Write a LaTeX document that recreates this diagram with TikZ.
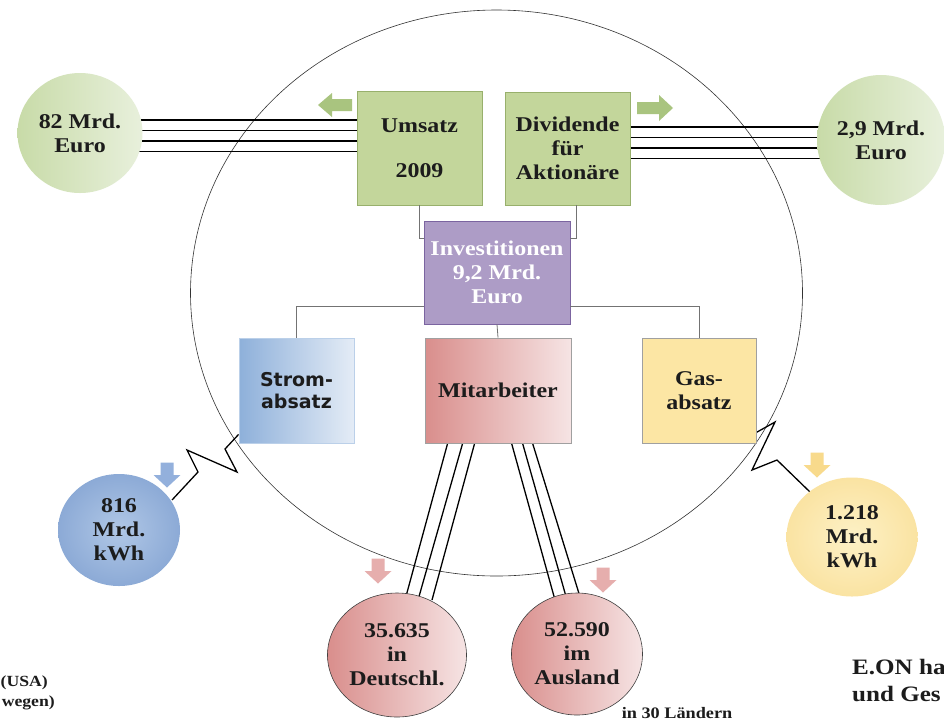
\documentclass[tikz,border=0pt]{standalone}
\usepackage{fontspec}
\setmainfont{Liberation Serif}[FakeStretch=1.14]
\newfontfamily\dvsans{DejaVu Sans}
\usetikzlibrary{shapes.geometric,backgrounds,calc}
\definecolor{gboxfill}{HTML}{C3D69B}
\definecolor{gboxdraw}{HTML}{98B06C}
\definecolor{gcircL}{HTML}{C8DBA8}
\definecolor{gcircR}{HTML}{E8F0DC}
\definecolor{purplefill}{HTML}{AD9CC6}
\definecolor{purpledraw}{HTML}{7B64A0}
\definecolor{blueL}{HTML}{8EB0DA}
\definecolor{blueR}{HTML}{E4ECF6}
\definecolor{redL}{HTML}{D98E8C}
\definecolor{redR}{HTML}{F6E4E4}
\definecolor{gasfill}{HTML}{FCE6A4}
\definecolor{bcircIn}{HTML}{B0C7E6}
\definecolor{bcircOut}{HTML}{8CAAD6}
\definecolor{ycircIn}{HTML}{FDF1C6}
\definecolor{ycircOut}{HTML}{FAE3A2}
\definecolor{arrgreen}{HTML}{A9C47F}
\definecolor{arrblue}{HTML}{93B0DC}
\definecolor{arrpink}{HTML}{E6AEAD}
\definecolor{arryellow}{HTML}{F8DA8C}
\definecolor{boxedge}{HTML}{A0A0A0}
\definecolor{txtdark}{HTML}{1C1C1C}
\newcommand\mfont{\fontsize{21}{24}\selectfont\bfseries}
\newcommand\sfontb{\dvsans\fontsize{19}{22}\selectfont\bfseries}
\tikzset{
  boxbase/.style={draw, line width=0.8pt, inner sep=0pt, align=center, font=\mfont, text=txtdark},
  greenbox/.style={boxbase, fill=gboxfill, draw=gboxdraw, minimum width=125pt, minimum height=114pt},
  investbox/.style={boxbase, fill=purplefill, draw=purpledraw, text=white, minimum width=146pt, minimum height=103pt},
  strombox/.style={boxbase, left color=blueL, right color=blueR, draw=blueL!60, minimum width=115pt, minimum height=105pt, font=\sfontb},
  mitbox/.style={boxbase, left color=redL, right color=redR, draw=boxedge, minimum width=146pt, minimum height=105pt},
  gasbox/.style={boxbase, fill=gasfill, draw=boxedge, minimum width=114pt, minimum height=105pt},
  circbase/.style={ellipse, inner sep=0pt, align=center, font=\mfont, text=txtdark},
  greencirc/.style={circbase, left color=gcircL, right color=gcircR},
  bluecirc/.style={circbase, inner color=bcircIn, outer color=bcircOut},
  redcirc/.style={circbase, left color=redL, right color=redR, draw=black!75, line width=0.6pt},
  yellowcirc/.style={circbase, inner color=ycircIn, outer color=ycircOut},
  conn/.style={draw=black!55, line width=0.8pt},
  bus/.style={draw=black, line width=1.7pt},
  thread/.style={draw=black, line width=1.3pt},
  zig/.style={draw=black, line width=1.3pt, line join=miter},
  ring/.style={draw=black!80, line width=0.6pt},
  plaintxt/.style={inner sep=0pt, text=txtdark, font=\bfseries},
  pics/darrow/.style={code={\fill[#1] (-6.5,-12.5) -- (6.5,-12.5) -- (6.5,0) -- (13.5,0) -- (0,12.5) -- (-13.5,0) -- (-6.5,0) -- cycle;}},
  pics/larrow/.style={code={\fill[#1] (17,-6) -- (-3,-6) -- (-3,-12) -- (-17,0) -- (-3,12) -- (-3,6) -- (17,6) -- cycle;}},
  pics/rarrow/.style={code={\fill[#1] (-18,-6) -- (4,-6) -- (4,-13) -- (18,0) -- (4,13) -- (4,6) -- (-18,6) -- cycle;}}
}
\begin{document}
\begin{tikzpicture}[x=1pt,y=-1pt]
\useasboundingbox (0,0) rectangle (944,724);

% boxes
\node[greenbox] (ums) at (419.5,148) {Umsatz\\[21pt]2009};
\node[greenbox, minimum height=113pt] (div) at (567.5,148.5) {Dividende\\für\\Aktionäre};
\node[investbox] (inv) at (497,272.5) {Investitionen\\9,2 Mrd.\\Euro};
\node[strombox] (strom) at (296.5,390.5) {Strom-\\absatz};
\node[mitbox] (mit) at (498,390.5) {Mitarbeiter};
\node[gasbox] (gas) at (699,390.5) {Gas-\\absatz};

% circles
\node[greencirc, minimum width=125pt, minimum height=120pt] (c82) at (80,133) {82 Mrd.\\Euro};
\node[greencirc, minimum width=128pt, minimum height=130pt] (c29) at (881,140) {2,9 Mrd.\\Euro};
\node[bluecirc, minimum width=122pt, minimum height=112pt] (c816) at (119,530) {816\\Mrd.\\kWh};
\node[redcirc, minimum width=139pt, minimum height=124pt] (cde) at (397,655) {35.635\\in\\Deutschl.};
\node[redcirc, minimum width=131pt, minimum height=122pt] (cau) at (577,654) {52.590\\im\\Ausland};
\node[yellowcirc, minimum width=131pt, minimum height=119pt] (cgas) at (852,537) {1.218\\Mrd.\\kWh};

% tree connectors
\draw[conn] (ums.south) |- ($(inv.north west)+(0,18)$);
\draw[conn] ([xshift=9pt]div.south) |- ($(inv.north east)+(0,18)$);
\draw[conn] ($(inv.south west)+(0,-18)$) -| (strom.north);
\draw[conn] ($(inv.south east)+(0,-18)$) -| (gas.north);
\draw[conn] (inv.south) -- (mit.north);

% arrows
\pic (agl) at (335,105) {larrow=arrgreen};
\pic (agr) at (655,108) {rarrow=arrgreen};
\pic (abl) at (167,475) {darrow=arrblue};
\pic (apk1) at (378,571) {darrow=arrpink};
\pic (apk2) at (603,580) {darrow=arrpink};
\pic (aye) at (817,465) {darrow=arryellow};

% texts
\node[plaintxt, font=\fontsize{16}{18}\selectfont\bfseries] (laender) at (677,713) {in 30 Ländern};
\node[plaintxt, anchor=west, font=\fontsize{22}{26}\selectfont\bfseries] (eon1) at (852,667) {E.ON ha};
\node[plaintxt, anchor=west, font=\fontsize{22}{26}\selectfont\bfseries] (eon2) at (852,694) {und Ges};
\node[plaintxt, anchor=east, font=\fontsize{15.5}{18}\selectfont\bfseries] (usa) at (48,683) {(USA)};
\node[plaintxt, anchor=east, font=\fontsize{15.5}{18}\selectfont\bfseries] (nor) at (55,703) {wegen)};

\begin{scope}[on background layer]
  \fill[white] (0,0) rectangle (944,724);
  \draw[ring] (496.5,293) ellipse [x radius=306pt, y radius=283pt];
  \foreach \yy in {120,130.5,141,151.5}
    \draw[bus] (c82.center |- 0,\yy) -- (ums.west |- 0,\yy);
  \foreach \yy in {127,137.5,148,158.5}
    \draw[bus] (div.east |- 0,\yy) -- (c29.center |- 0,\yy);
  % Mitarbeiter threads
  \draw[thread] ($(mit.south west)+(23,0)$) -- (405,600);
  \draw[thread] ($(mit.south west)+(38,0)$) -- (418,600);
  \draw[thread] ($(mit.south west)+(50,0)$) -- (432,600);
  \draw[thread] ($(mit.south west)+(87,0)$) -- (555,600);
  \draw[thread] ($(mit.south west)+(98,0)$) -- (567,600);
  \draw[thread] ($(mit.south west)+(108,0)$) -- (581,600);
  % zigzags
  \coordinate (zs) at (172,500);
  \draw[zig] ($(strom.south west)+(0,-9)$) -- (225,449) -- (237,472) -- (187,450) -- (198,472) -- (zs);
  \coordinate (zg) at (810,492);
  \draw[zig] ($(gas.south east)+(0,-11)$) -- (775,422) -- (752,470) -- (777,460) -- (zg);
\end{scope}
\end{tikzpicture}
\end{document}
